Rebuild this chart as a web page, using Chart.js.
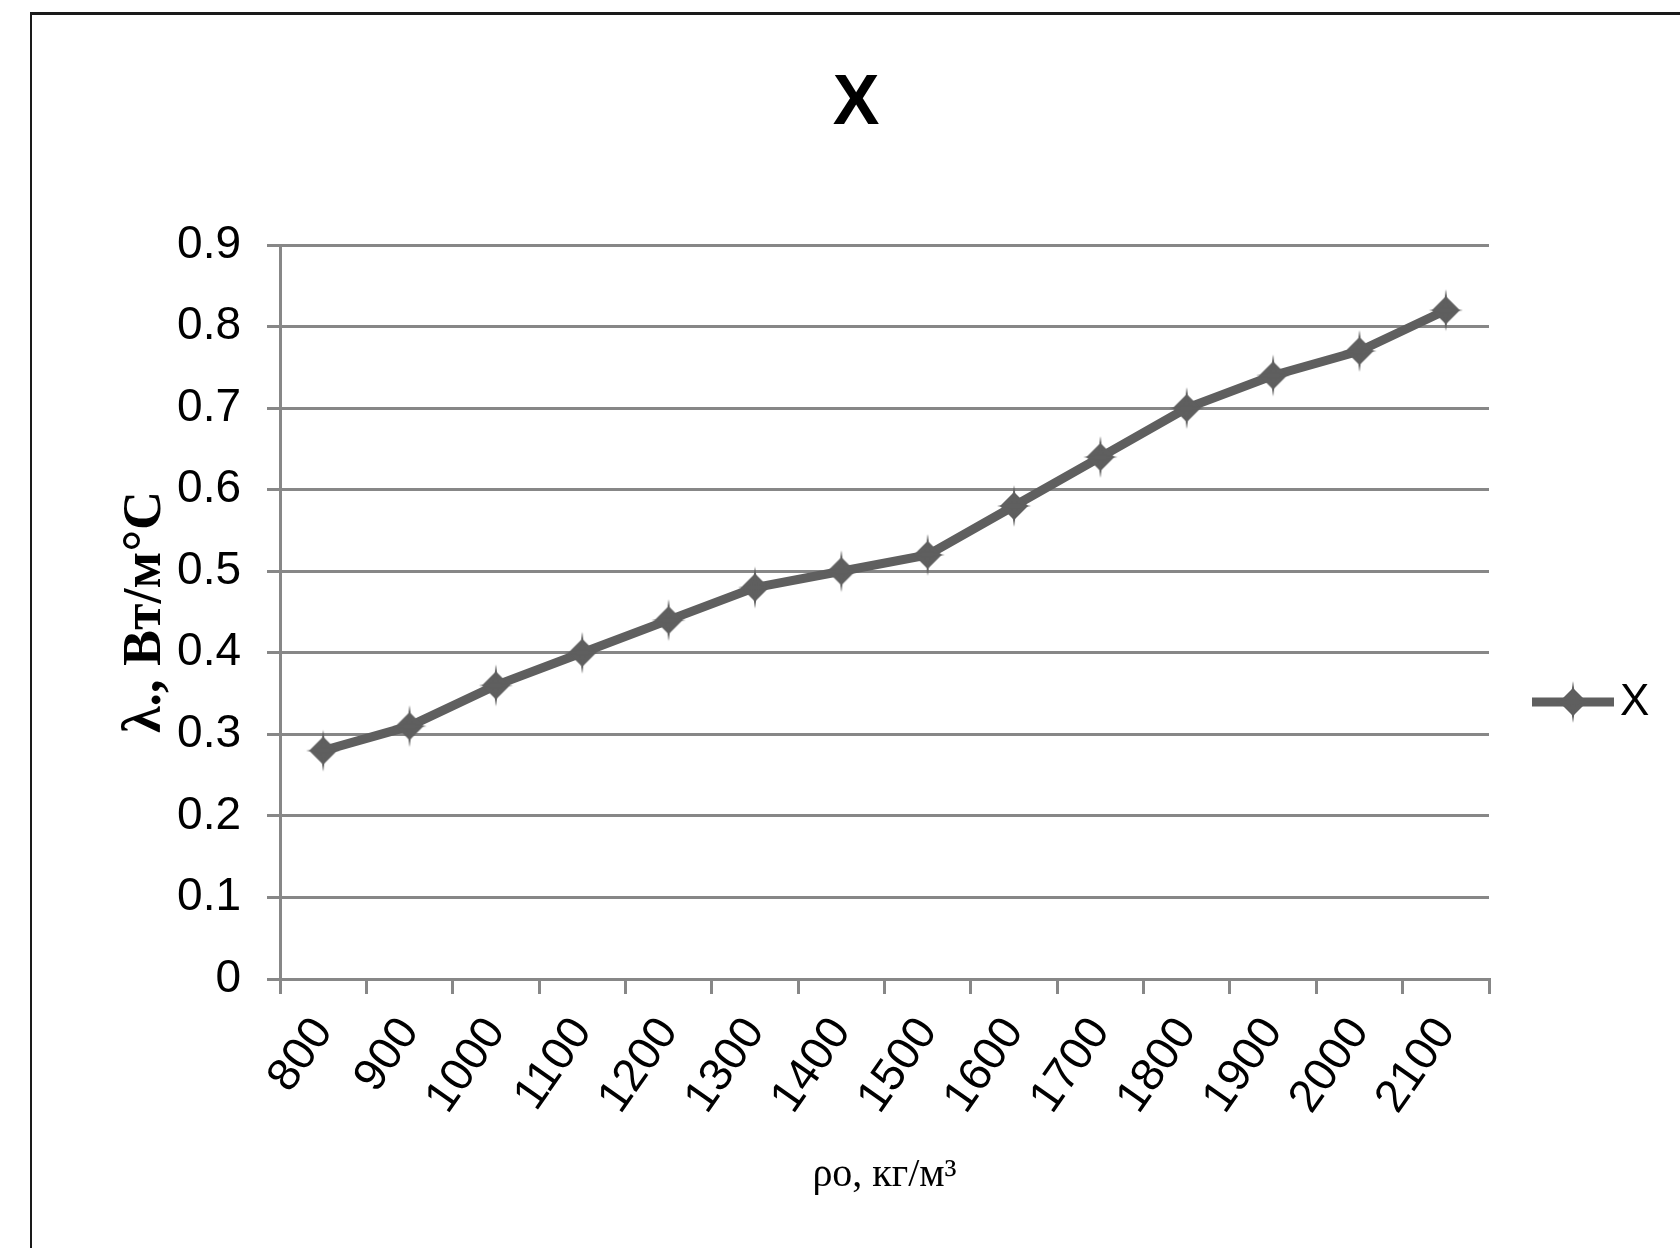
<!DOCTYPE html>
<html>
<head>
<meta charset="utf-8">
<script src="https://cdn.jsdelivr.net/npm/chart.js@4"></script>
<style>
  html, body { margin: 0; padding: 0; background: #fff; }
  body { width: 1680px; height: 1248px; overflow: hidden; position: relative; }
  #frame {
    position: absolute; left: 30px; top: 12px;
    width: 1650px; height: 1236px;
    border-top: 3px solid #1a1a1a; border-left: 2px solid #1a1a1a;
    box-sizing: border-box;
  }
  #frame canvas { display: block; }
</style>
</head>
<body>
<div id="frame"><canvas id="chart"></canvas></div>
<script>
// Thermal conductivity vs. density
const densities = ['800', '900', '1000', '1100', '1200', '1300', '1400', '1500', '1600', '1700', '1800', '1900', '2000', '2100'];
const lambdaValues = [0.28, 0.31, 0.36, 0.40, 0.44, 0.48, 0.50, 0.52, 0.58, 0.64, 0.70, 0.74, 0.77, 0.82];
const yTickLabels = ['0', '0.1', '0.2', '0.3', '0.4', '0.5', '0.6', '0.7', '0.8', '0.9'];
const seriesName = 'X';
const chartTitle = 'X';
const xAxisTitle = 'ρo, кг/м³';
const yAxisTitle = 'λ., Вт/м°С';

const lineColor = '#5f5f5f';
const gridColor = '#878787';
const sansFamily = "'Liberation Sans Narrow', 'Arial Narrow', 'Liberation Sans', Arial, sans-serif";
const serifFamily = "'Liberation Serif', 'Times New Roman', serif";

// Spiky diamond marker
function makeMarker() {
  const c = document.createElement('canvas');
  c.width = 40; c.height = 46;
  const g = c.getContext('2d');
  const cx = 20, cy = 23;
  g.fillStyle = lineColor;
  g.beginPath();
  g.moveTo(cx, cy - 14); g.lineTo(cx + 14, cy); g.lineTo(cx, cy + 14); g.lineTo(cx - 14, cy);
  g.closePath(); g.fill();
  g.beginPath();
  g.moveTo(cx, cy - 21); g.lineTo(cx + 3, cy); g.lineTo(cx, cy + 21); g.lineTo(cx - 3, cy);
  g.closePath(); g.fill();
  g.beginPath();
  g.moveTo(cx - 17, cy); g.lineTo(cx, cy - 3); g.lineTo(cx + 17, cy); g.lineTo(cx, cy + 3);
  g.closePath(); g.fill();
  return c;
}
const marker = makeMarker();

// Legend drawn at the right side of the plot
const sideLegend = {
  id: 'sideLegend',
  afterDraw(chart) {
    const ds = chart.data.datasets[0];
    const ctx = chart.ctx;
    const x0 = chart.chartArea.right + 43;
    const y = chart.chartArea.top + 457;
    ctx.save();
    ctx.strokeStyle = ds.borderColor;
    ctx.lineWidth = ds.borderWidth;
    ctx.lineCap = 'butt';
    ctx.beginPath(); ctx.moveTo(x0, y); ctx.lineTo(x0 + 82, y); ctx.stroke();
    ctx.drawImage(marker, x0 + 41 - marker.width / 2, y - marker.height / 2);
    ctx.fillStyle = '#000';
    ctx.font = '44px ' + sansFamily;
    ctx.textAlign = 'left';
    ctx.textBaseline = 'middle';
    ctx.fillText(ds.label, x0 + 88, y + 1);
    ctx.restore();
  }
};

new Chart(document.getElementById('chart'), {
  type: 'line',
  data: {
    labels: densities,
    datasets: [{
      label: seriesName,
      data: lambdaValues,
      borderColor: lineColor,
      backgroundColor: lineColor,
      borderWidth: 9,
      pointStyle: marker,
      pointRadius: 15,
      tension: 0,
      fill: false
    }]
  },
  options: {
    responsive: true,
    maintainAspectRatio: false,
    animation: false,
    devicePixelRatio: 1,
    layout: { padding: 0 },
    plugins: {
      legend: { display: false },
      tooltip: { enabled: false },
      title: {
        display: true,
        text: chartTitle,
        color: '#000',
        font: { family: "'Liberation Sans', Arial, sans-serif", size: 70, weight: 'bold', lineHeight: 1.2 },
        padding: { top: 48, bottom: 98 }
      }
    },
    scales: {
      x: {
        type: 'category',
        offset: true,
        afterFit(s) { s.height = 269; },
        grid: {
          offset: true,
          drawOnChartArea: false,
          drawTicks: true,
          tickLength: 15,
          color: gridColor,
          lineWidth: 3
        },
        border: { display: true, color: gridColor, width: 3 },
        ticks: {
          color: '#000',
          font: { family: sansFamily, size: 46 },
          minRotation: 55,
          maxRotation: 55,
          autoSkip: false,
          padding: 14
        },
        title: {
          display: true,
          text: xAxisTitle,
          color: '#000',
          font: { family: serifFamily, size: 40 },
          padding: { top: 0, bottom: 49 }
        }
      },
      y: {
        min: 0,
        max: 0.9,
        afterFit(s) { s.width = 248; },
        grid: {
          color: gridColor,
          lineWidth: 3,
          drawTicks: true,
          tickLength: 13
        },
        border: { display: true, color: gridColor, width: 3 },
        ticks: {
          stepSize: 0.1,
          color: '#000',
          font: { family: sansFamily, size: 46 },
          padding: 26,
          callback: (v, i) => yTickLabels[i]
        },
        title: {
          display: true,
          text: yAxisTitle,
          color: '#000',
          font: { family: serifFamily, size: 54, weight: 'bold' },
          padding: { top: 82, bottom: 0 }
        }
      },
      // empty band on the right that holds the legend
      legendBand: {
        type: 'linear',
        position: 'right',
        display: true,
        afterFit(s) { s.width = 191; },
        grid: { display: false, drawTicks: false },
        border: { display: false },
        ticks: { display: false }
      }
    }
  },
  plugins: [sideLegend]
});
</script>
</body>
</html>
